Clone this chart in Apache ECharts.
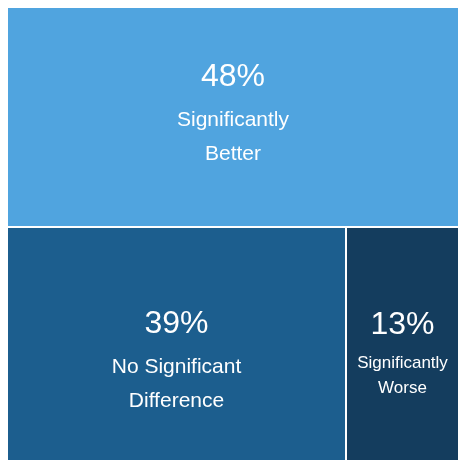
<!DOCTYPE html>
<html lang="en">
<head>
    <meta charset="utf-8" />
    <title>Treemap</title>
    <script type="text/javascript" src="https://cdn.jsdelivr.net/npm/echarts/dist/echarts.min.js"></script>
    <style>
        html, body { margin: 0; padding: 0; background: #fff; }
        #chart { width: 458px; height: 460px; }
    </style>
</head>
<body>
    <div id="chart"></div>
    <script type="text/javascript">
        var names = ['Significantly\nBetter', 'No Significant\nDifference', 'Significantly\nWorse'];
        var values = [48, 39, 13];
        var colors = ['#50A4DF', '#1C5E8E', '#143D5E'];
        var nameSizes = [21, 21, 17];
        var pctSizes = [32, 32, 32];
        var pctLines = [52, 52, 51];
        var nameLines = [34, 34, 25];
        var labelTop = [38, 65, 67];

        var chart = echarts.init(document.getElementById('chart'));

        function makeNode(i) {
            return {
                name: names[i],
                value: values[i],
                itemStyle: { color: colors[i] },
                label: {
                    show: true,
                    position: 'insideTop',
                    offset: [0, labelTop[i]],
                    align: 'center',
                    overflow: 'none',
                    rich: {
                        pct: { fontSize: pctSizes[i], color: '#fff', lineHeight: pctLines[i], fontFamily: 'Liberation Sans', align: 'center' },
                        nm: { fontSize: nameSizes[i], color: '#fff', lineHeight: nameLines[i], fontFamily: 'Liberation Sans', align: 'center' }
                    }
                }
            };
        }

        function fmt(p) {
            var lines = p.name.split('\n').map(function (s) { return '{nm|' + s + '}'; });
            return '{pct|' + p.value + '%}\n' + lines.join('\n');
        }

        function treemap(box, nodes) {
            return Object.assign({
                type: 'treemap',
                roam: false,
                nodeClick: false,
                breadcrumb: { show: false },
                sort: false,
                itemStyle: { gapWidth: 2, borderWidth: 0, borderColor: '#fff' },
                label: { show: true, formatter: fmt },
                levels: [{ itemStyle: { gapWidth: 2, borderWidth: 0 } }],
                data: nodes
            }, box);
        }

        chart.setOption({
            animation: false,
            series: [
                treemap({ left: 8, right: 0, top: 8, height: 218 }, [makeNode(0)]),
                treemap({ left: 8, right: 0, top: 228, bottom: 0 }, [makeNode(1), makeNode(2)])
            ]
        });
    </script>
</body>
</html>
